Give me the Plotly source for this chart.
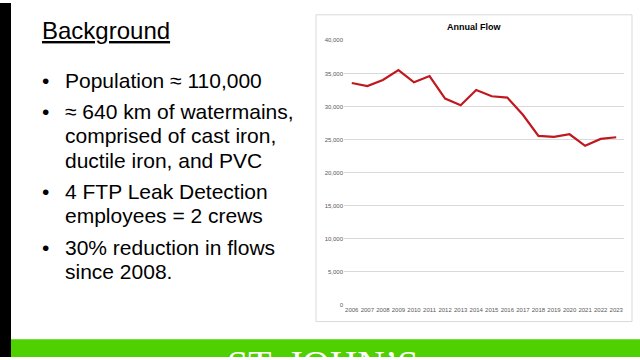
import plotly.graph_objects as go

years = [str(y) for y in range(2006, 2024)]
annual_flow = [33550, 33100, 34000, 35500, 33650, 34600, 31200, 30200, 32500,
               31550, 31350, 28750, 25550, 25400, 25800, 24050, 25100, 25350]
y_ticks = [0, 5000, 10000, 15000, 20000, 25000, 30000, 35000, 40000]

chart_title = "Annual Flow"
slide_title = "Background"
bullets = [
    ["Population \u2248 110,000"],
    ["\u2248 640 km of watermains,", "comprised of cast iron,", "ductile iron, and PVC"],
    ["4 FTP Leak Detection", "employees = 2 crews"],
    ["30% reduction in flows", "since 2008."],
]
footer = "ST. JOHN\u2019S"

W, H = 640, 360

def py(p):
    return 1 - p / H

def px(p):
    return p / W

fig = go.Figure()
fig.add_trace(go.Scatter(
    x=years, y=annual_flow, mode="lines",
    line=dict(color="#c0181e", width=2.2),
    hoverinfo="x+y", showlegend=False,
))

shapes = [
    dict(type="rect", xref="paper", yref="paper", x0=px(316), x1=px(632), y0=py(324), y1=py(12),
         line=dict(color="#d9d9d9", width=1), fillcolor="white", layer="below"),
    dict(type="rect", xref="paper", yref="paper", x0=0, x1=1, y0=0, y1=py(342),
         line=dict(width=0), fillcolor="#4fd000", layer="below"),
    dict(type="rect", xref="paper", yref="paper", x0=0, x1=px(11), y0=0, y1=1,
         line=dict(width=0), fillcolor="#000000", layer="below"),
]

annotations = []
annotations.append(dict(
    text="<u>" + slide_title + "</u>", x=px(40), y=py(28), xref="paper", yref="paper",
    xanchor="left", yanchor="middle", showarrow=False,
    font=dict(family="Liberation Sans, Arial", size=24, color="#000000")))

baselines = [[86], [117, 142, 167], [199, 223], [256, 280]]
for lines, bls in zip(bullets, baselines):
    annotations.append(dict(
        text="\u2022", x=px(40), y=py(bls[0] - 7), xref="paper", yref="paper",
        xanchor="left", yanchor="middle", showarrow=False,
        font=dict(family="Liberation Sans, Arial", size=21, color="#000000")))
    for ln, bl in zip(lines, bls):
        annotations.append(dict(
            text=ln, x=px(63), y=py(bl - 7), xref="paper", yref="paper",
            xanchor="left", yanchor="middle", showarrow=False,
            font=dict(family="Liberation Sans, Arial", size=21, color="#000000")))

annotations.append(dict(
    text="<b>" + chart_title + "</b>", x=px(474), y=py(24), xref="paper", yref="paper",
    xanchor="center", yanchor="middle", showarrow=False,
    font=dict(family="Liberation Sans, Arial", size=9, color="#000000")))

annotations.append(dict(
    text=footer, x=px(322), y=py(344), xref="paper", yref="paper",
    xanchor="center", yanchor="top", showarrow=False,
    font=dict(family="Liberation Serif, serif", size=38, color="#ffffff")))

fig.update_layout(
    width=W, height=H,
    margin=dict(l=0, r=0, t=0, b=0),
    paper_bgcolor="white", plot_bgcolor="rgba(0,0,0,0)",
    shapes=shapes, annotations=annotations,
    xaxis=dict(domain=[px(344), px(624)], range=[-0.5, 17.5], type="category",
               showgrid=False, showline=False, zeroline=False, ticks="",
               tickfont=dict(family="Liberation Sans, Arial", size=6, color="#595959"),
               tickangle=0, fixedrange=True),
    yaxis=dict(domain=[py(307), py(38)], range=[0, 40000], tickvals=y_ticks,
               tickformat=",", showgrid=True, gridcolor="#d9d9d9", gridwidth=1,
               showline=False, zeroline=False, ticks="",
               tickfont=dict(family="Liberation Sans, Arial", size=6, color="#595959"),
               fixedrange=True),
)

fig.write_html("out.html", config={"displayModeBar": False},
               post_script="document.body.style.margin='0';document.body.style.padding='0';document.body.style.overflow='hidden';")
